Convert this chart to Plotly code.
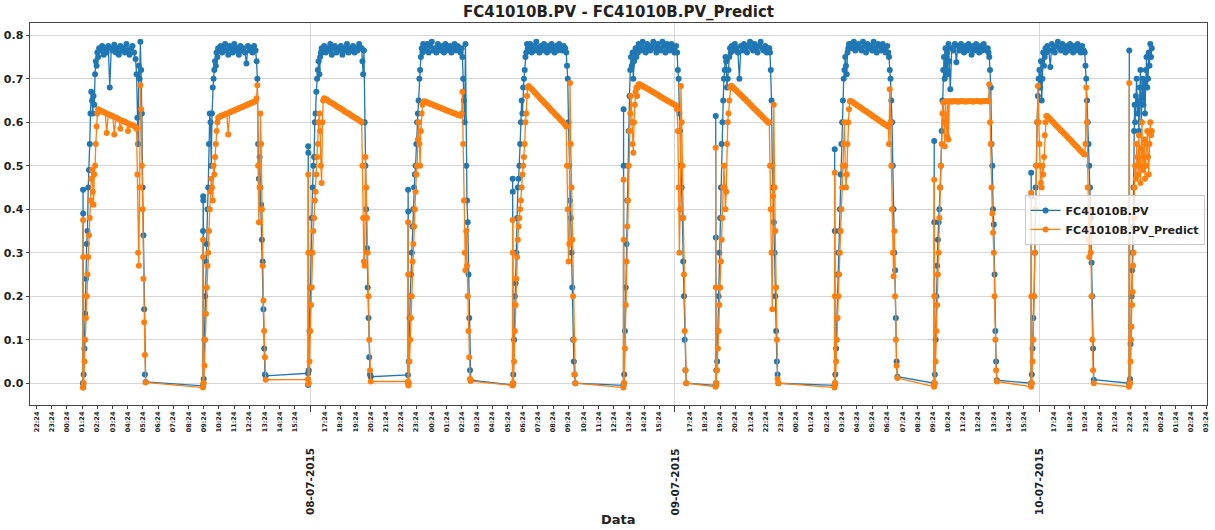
import pandas as pd
import plotly.graph_objects as go

# ---------------------------------------------------------------------------
# Process value (PV) and model prediction for FC41010B, July 2015.
# Each operating run is stored as a start time plus samples taken at
# fixed minute offsets after that start.
# ---------------------------------------------------------------------------
run_starts = [
    "2015-07-08 01:27", "2015-07-08 09:21", "2015-07-08 16:16", "2015-07-08 22:51",
    "2015-07-09 05:44", "2015-07-09 13:02", "2015-07-09 19:06", "2015-07-10 02:56",
    "2015-07-10 09:29", "2015-07-10 15:52",
]

offset_min = [
    0, 0.5, 1, 1.5,
    3, 6, 9, 12, 15, 18, 21, 24, 27, 30,
    33, 36, 39, 42, 45, 48, 51, 54, 57, 60,
    64, 70, 76, 82, 88, 94, 100, 106, 112, 118,
    124, 130, 136, 142, 148, 154, 160, 166, 172, 178,
    184, 190, 196, 202, 208,
    212, 215, 218, 221, 224, 227, 230, 233, 236, 239, 242, 245,
    248,
]

pv_run01 = [0.0, 0.445, 0.39, 0.0,
            0.02, 0.08, 0.16, 0.24, 0.32, 0.35, 0.45, 0.49, 0.55, 0.62,
            0.67, 0.65, 0.62, 0.66, 0.64, 0.71, 0.74, 0.73, 0.76, 0.75,
            0.77, 0.765, 0.775, 0.755, 0.77, 0.76, 0.775, 0.68, 0.77, 0.765,
            0.778, 0.76, 0.77, 0.755, 0.775, 0.765, 0.77, 0.76, 0.78, 0.765,
            0.755, 0.77, 0.775, 0.76, 0.745,
            0.71, 0.61, 0.55, 0.73, 0.70, 0.785, 0.72, 0.62, 0.45, 0.34, 0.17, 0.02,
            0.003]
pred_run01 = [-0.01, 0.375, 0.29, -0.01,
              0.0, 0.05, 0.1, 0.15, 0.2, 0.25, 0.29, 0.34, 0.38, 0.42,
              0.47, 0.49, 0.44, 0.41, 0.48, 0.50, 0.55, 0.59, 0.62, 0.63,
              0.628, 0.626, 0.625, 0.623, 0.622, 0.575, 0.618, 0.617, 0.615, 0.614,
              0.572, 0.610, 0.609, 0.607, 0.585, 0.604, 0.602, 0.601, 0.599, 0.580,
              0.596, 0.594, 0.593, 0.591, 0.589,
              0.585, 0.48, 0.30, 0.27, 0.45, 0.685, 0.63, 0.50, 0.40, 0.24, 0.14, 0.065,
              0.002]

pv_run02 = [-0.006, 0.35, 0.43, 0.42,
            0.01, 0.1, 0.2, 0.28, 0.32, 0.4, 0.45, 0.55, 0.62, 0.6,
            0.5, 0.62, 0.68, 0.7, 0.72, 0.74, 0.73, 0.76, 0.75, 0.77,
            0.765, 0.775, 0.76, 0.77, 0.78, 0.765, 0.755, 0.775, 0.77, 0.76,
            0.78, 0.765, 0.77, 0.755, 0.775, 0.765, 0.77, 0.76, 0.735, 0.775,
            0.765, 0.77, 0.76, 0.775, 0.765,
            0.74, 0.70, 0.55, 0.47, 0.52, 0.45, 0.41, 0.33, 0.28, 0.17, 0.08, 0.02,
            0.017]
pred_run02 = [-0.01, 0.33, 0.29, 0.0,
              0.0, 0.04, 0.1, 0.16, 0.22, 0.27, 0.3, 0.35, 0.4, 0.44,
              0.47, 0.45, 0.42, 0.5, 0.48, 0.52, 0.55, 0.58, 0.6, 0.61,
              0.612, 0.614, 0.615, 0.617, 0.618, 0.620, 0.572, 0.623, 0.624, 0.626,
              0.627, 0.629, 0.630, 0.632, 0.633, 0.635, 0.636, 0.638, 0.639, 0.641,
              0.642, 0.644, 0.645, 0.647, 0.648,
              0.655, 0.685, 0.50, 0.37, 0.45, 0.62, 0.55, 0.40, 0.27, 0.19, 0.12, 0.06,
              0.008]

pv_run03 = [0.023, -0.004, 0.545, 0.53,
            0.03, 0.12, 0.22, 0.3, 0.38, 0.45, 0.5, 0.52, 0.6, 0.62,
            0.67, 0.7, 0.72, 0.74, 0.71, 0.75, 0.76, 0.77, 0.76, 0.77,
            0.775, 0.76, 0.77, 0.765, 0.78, 0.755, 0.77, 0.775, 0.76, 0.77,
            0.765, 0.775, 0.755, 0.77, 0.765, 0.78, 0.76, 0.77, 0.765, 0.775,
            0.76, 0.77, 0.765, 0.78, 0.77,
            0.77, 0.74, 0.71, 0.765, 0.60, 0.50, 0.40, 0.31, 0.22, 0.15, 0.06, 0.02,
            0.015]
pred_run03 = [0.009, -0.002, 0.48, 0.30,
              0.0, 0.05, 0.12, 0.18, 0.22, 0.3, 0.35, 0.38, 0.42, 0.44,
              0.48, 0.52, 0.55, 0.6, 0.62, 0.58, 0.5, 0.46, 0.6, 0.65,
              0.655, 0.653, 0.651, 0.648, 0.646, 0.644, 0.642, 0.640, 0.637, 0.635,
              0.633, 0.631, 0.629, 0.626, 0.624, 0.622, 0.620, 0.618, 0.615, 0.613,
              0.611, 0.609, 0.607, 0.604, 0.602,
              0.60, 0.50, 0.38, 0.28, 0.27, 0.52, 0.45, 0.38, 0.30, 0.20, 0.10, 0.03,
              0.004]

pv_run04 = [0.019, 0.445, 0.395, 0.0,
            0.05, 0.15, 0.2, 0.25, 0.3, 0.36, 0.4, 0.45, 0.48, 0.5,
            0.55, 0.6, 0.62, 0.65, 0.7, 0.72, 0.75, 0.77, 0.76, 0.78,
            0.77, 0.765, 0.78, 0.76, 0.775, 0.785, 0.765, 0.77, 0.76, 0.78,
            0.77, 0.765, 0.775, 0.76, 0.78, 0.77, 0.765, 0.775, 0.76, 0.77,
            0.78, 0.765, 0.775, 0.77, 0.76,
            0.77, 0.75, 0.70, 0.65, 0.60, 0.78, 0.50, 0.42, 0.37, 0.25, 0.15, 0.03,
            0.007]
pred_run04 = [0.004, 0.37, 0.25, -0.005,
              0.0, 0.05, 0.1, 0.15, 0.2, 0.28, 0.32, 0.36, 0.4, 0.44,
              0.48, 0.5, 0.56, 0.6, 0.55, 0.5, 0.58, 0.62, 0.64, 0.645,
              0.648, 0.647, 0.645, 0.644, 0.642, 0.641, 0.640, 0.638, 0.637, 0.635,
              0.634, 0.633, 0.631, 0.630, 0.628, 0.627, 0.626, 0.624, 0.623, 0.621,
              0.620, 0.619, 0.617, 0.616, 0.615,
              0.62, 0.67, 0.55, 0.42, 0.30, 0.26, 0.35, 0.27, 0.20, 0.12, 0.06, 0.01,
              0.005]

pv_run05 = [-0.004, 0.47, 0.44, 0.0,
            0.02, 0.1, 0.2, 0.23, 0.3, 0.38, 0.45, 0.47, 0.5, 0.55,
            0.6, 0.65, 0.62, 0.68, 0.7, 0.72, 0.75, 0.76, 0.78, 0.77,
            0.77, 0.78, 0.76, 0.775, 0.765, 0.785, 0.77, 0.76, 0.775, 0.765,
            0.78, 0.77, 0.76, 0.775, 0.765, 0.78, 0.77, 0.76, 0.775, 0.765,
            0.78, 0.77, 0.765, 0.775, 0.77,
            0.76, 0.73, 0.70, 0.60, 0.50, 0.42, 0.38, 0.30, 0.22, 0.10, 0.05, 0.02,
            0.0]
pred_run05 = [-0.005, 0.375, 0.30, 0.0,
              0.0, 0.05, 0.12, 0.18, 0.24, 0.29, 0.33, 0.36, 0.38, 0.40,
              0.42, 0.45, 0.48, 0.50, 0.52, 0.55, 0.60, 0.62, 0.66, 0.68,
              0.683, 0.679, 0.676, 0.672, 0.668, 0.664, 0.661, 0.657, 0.653, 0.650,
              0.646, 0.642, 0.639, 0.635, 0.631, 0.627, 0.624, 0.620, 0.616, 0.613,
              0.609, 0.605, 0.602, 0.598, 0.594,
              0.59, 0.50, 0.40, 0.28, 0.32, 0.69, 0.55, 0.45, 0.33, 0.20, 0.10, 0.02,
              0.0]

pv_run06 = [-0.005, 0.63, 0.50, 0.0,
            0.02, 0.12, 0.22, 0.32, 0.42, 0.5, 0.58, 0.66, 0.72, 0.75,
            0.73, 0.76, 0.70, 0.74, 0.76, 0.77, 0.75, 0.77, 0.76, 0.78,
            0.775, 0.765, 0.785, 0.77, 0.76, 0.78, 0.77, 0.765, 0.775, 0.785,
            0.77, 0.76, 0.78, 0.77, 0.765, 0.785, 0.775, 0.76, 0.78, 0.77,
            0.765, 0.78, 0.77, 0.76, 0.775,
            0.76, 0.72, 0.70, 0.62, 0.58, 0.50, 0.45, 0.38, 0.28, 0.20, 0.10, 0.03,
            0.0]
pred_run06 = [-0.01, 0.468, 0.33, 0.0,
              0.0, 0.08, 0.18, 0.28, 0.36, 0.42, 0.5, 0.58, 0.62, 0.66,
              0.60, 0.55, 0.53, 0.6, 0.64, 0.67, 0.68, 0.66, 0.68, 0.687,
              0.687, 0.685, 0.683, 0.681, 0.679, 0.677, 0.675, 0.673, 0.671, 0.669,
              0.667, 0.665, 0.663, 0.660, 0.658, 0.656, 0.654, 0.652, 0.650, 0.648,
              0.646, 0.644, 0.642, 0.640, 0.638,
              0.63, 0.58, 0.45, 0.30, 0.40, 0.683, 0.60, 0.50, 0.38, 0.25, 0.12, 0.03,
              0.0]

pv_run07 = [-0.005, 0.614, 0.335, 0.0,
            0.03, 0.05, 0.12, 0.2, 0.3, 0.38, 0.45, 0.55, 0.6, 0.65,
            0.7, 0.72, 0.75, 0.74, 0.68, 0.7, 0.72, 0.75, 0.77, 0.76,
            0.775, 0.765, 0.78, 0.77, 0.76, 0.70, 0.775, 0.765, 0.78, 0.77,
            0.76, 0.775, 0.785, 0.77, 0.765, 0.78, 0.77, 0.76, 0.775, 0.785,
            0.77, 0.765, 0.775, 0.76, 0.77,
            0.77, 0.76, 0.72, 0.65, 0.50, 0.45, 0.37, 0.30, 0.20, 0.12, 0.05, 0.02,
            0.0]
pred_run07 = [-0.008, 0.541, 0.22, -0.005,
              0.0, 0.03, 0.08, 0.12, 0.18, 0.22, 0.28, 0.33, 0.38, 0.45,
              0.5, 0.45, 0.4, 0.44, 0.55, 0.6, 0.62, 0.65, 0.68, 0.683,
              0.683, 0.680, 0.676, 0.673, 0.669, 0.666, 0.662, 0.659, 0.655, 0.652,
              0.648, 0.645, 0.641, 0.638, 0.634, 0.631, 0.627, 0.624, 0.620, 0.617,
              0.613, 0.610, 0.606, 0.603, 0.599,
              0.60, 0.50, 0.40, 0.30, 0.17, 0.43, 0.64, 0.45, 0.35, 0.22, 0.10, 0.01,
              0.0]

pv_run08 = [-0.005, 0.538, 0.35, 0.0,
            0.02, 0.08, 0.15, 0.25, 0.3, 0.35, 0.4, 0.48, 0.55, 0.6,
            0.65, 0.7, 0.72, 0.75, 0.73, 0.71, 0.76, 0.77, 0.78, 0.77,
            0.78, 0.77, 0.785, 0.765, 0.775, 0.78, 0.77, 0.765, 0.785, 0.775,
            0.76, 0.78, 0.77, 0.775, 0.765, 0.785, 0.77, 0.76, 0.78, 0.775,
            0.765, 0.78, 0.77, 0.76, 0.775,
            0.76, 0.75, 0.72, 0.70, 0.65, 0.60, 0.50, 0.40, 0.30, 0.26, 0.15, 0.05,
            0.015]
pred_run08 = [-0.01, 0.484, 0.20, 0.0,
              0.0, 0.05, 0.1, 0.15, 0.2, 0.25, 0.3, 0.35, 0.4, 0.45,
              0.5, 0.55, 0.6, 0.5, 0.45, 0.48, 0.55, 0.6, 0.63, 0.648,
              0.649, 0.647, 0.644, 0.642, 0.639, 0.637, 0.635, 0.632, 0.630, 0.627,
              0.625, 0.623, 0.620, 0.618, 0.615, 0.613, 0.611, 0.608, 0.606, 0.603,
              0.601, 0.599, 0.596, 0.594, 0.591,
              0.59, 0.55, 0.676, 0.60, 0.50, 0.40, 0.30, 0.246, 0.35, 0.20, 0.10, 0.04,
              0.012]

pv_run09 = [0.0, 0.557, 0.37, 0.0,
            0.02, 0.1, 0.2, 0.27, 0.33, 0.37, 0.4, 0.45, 0.5, 0.58,
            0.65, 0.72, 0.75, 0.7, 0.77, 0.72, 0.76, 0.71, 0.78, 0.74,
            0.676, 0.77, 0.765, 0.78, 0.738, 0.775, 0.765, 0.78, 0.77, 0.76,
            0.775, 0.765, 0.78, 0.77, 0.755, 0.775, 0.765, 0.78, 0.77, 0.76,
            0.775, 0.765, 0.78, 0.77, 0.765,
            0.77, 0.76, 0.75, 0.72, 0.68, 0.55, 0.50, 0.40, 0.365, 0.25, 0.12, 0.05,
            0.007]
pred_run09 = [-0.008, 0.468, 0.20, 0.0,
              0.0, 0.05, 0.12, 0.18, 0.25, 0.3, 0.38, 0.45, 0.5, 0.55,
              0.62, 0.645, 0.6, 0.545, 0.648, 0.6, 0.567, 0.648, 0.56, 0.648,
              0.648, 0.647, 0.648, 0.649, 0.648, 0.647, 0.648, 0.648, 0.649, 0.648,
              0.647, 0.648, 0.648, 0.649, 0.648, 0.647, 0.648, 0.648, 0.649, 0.648,
              0.647, 0.648, 0.648, 0.649, 0.648,
              0.648, 0.648, 0.687, 0.60, 0.55, 0.45, 0.39, 0.346, 0.30, 0.20, 0.10, 0.03,
              0.004]

pv_run10 = [0.0, 0.484, 0.43, 0.0,
            0.02, 0.08, 0.15, 0.2, 0.3, 0.45, 0.5, 0.6, 0.66, 0.7,
            0.72, 0.68, 0.74, 0.65, 0.7, 0.76, 0.73, 0.75, 0.77, 0.76,
            0.775, 0.765, 0.727, 0.78, 0.77, 0.76, 0.775, 0.785, 0.77, 0.765,
            0.78, 0.77, 0.76, 0.775, 0.765, 0.78, 0.77, 0.76, 0.775, 0.765,
            0.78, 0.77, 0.76, 0.775, 0.765,
            0.76, 0.73, 0.70, 0.65, 0.60, 0.55, 0.50, 0.45, 0.38, 0.277, 0.20, 0.08,
            0.008]
pred_run10 = [-0.008, 0.438, 0.20, 0.0,
              0.0, 0.05, 0.1, 0.2, 0.3, 0.4, 0.5, 0.6, 0.683, 0.6,
              0.55, 0.5, 0.46, 0.45, 0.5, 0.48, 0.52, 0.57, 0.6, 0.614,
              0.614, 0.610, 0.607, 0.603, 0.600, 0.596, 0.592, 0.589, 0.585, 0.581,
              0.578, 0.574, 0.571, 0.567, 0.563, 0.560, 0.556, 0.552, 0.549, 0.545,
              0.542, 0.538, 0.534, 0.531, 0.527,
              0.526, 0.55, 0.68, 0.60, 0.45, 0.33, 0.29, 0.40, 0.30, 0.20, 0.10, 0.03,
              0.0]

# Last (incomplete) run, with its own sample offsets
last_run_start = "2015-07-10 22:19"
last_offset_min = [0, 1, 2, 4, 6, 8, 10, 12, 14, 16, 18, 20, 22, 24,
                   27, 30, 33, 36, 39, 42, 45, 48, 51, 54, 57, 60,
                   63, 66, 69, 72, 75, 78, 81, 84, 87, 90]
pv_run11 = [0.0, 0.765, 0.0, 0.01, 0.09, 0.13, 0.2, 0.26, 0.3, 0.36, 0.45, 0.58, 0.64, 0.6,
            0.66, 0.7, 0.62, 0.65, 0.58, 0.68, 0.72, 0.6, 0.66, 0.7, 0.64, 0.69,
            0.62, 0.72, 0.75, 0.68, 0.7, 0.76, 0.73, 0.78, 0.75, 0.77]
pred_run11 = [-0.008, 0.69, 0.0, 0.0, 0.05, 0.1, 0.13, 0.18, 0.21, 0.27, 0.3, 0.38, 0.45, 0.5,
              0.47, 0.55, 0.52, 0.48, 0.57, 0.5, 0.46, 0.54, 0.6, 0.49, 0.52, 0.56,
              0.47, 0.5, 0.55, 0.58, 0.52, 0.48, 0.55, 0.6, 0.57, 0.58]

pv_runs = [pv_run01, pv_run02, pv_run03, pv_run04, pv_run05,
           pv_run06, pv_run07, pv_run08, pv_run09, pv_run10]
pred_runs = [pred_run01, pred_run02, pred_run03, pred_run04, pred_run05,
             pred_run06, pred_run07, pred_run08, pred_run09, pred_run10]

# Axis labelling
date_ticks = ["2015-07-08 16:24", "2015-07-09 16:24", "2015-07-10 16:24"]
date_labels = ["08-07-2015", "09-07-2015", "10-07-2015"]
y_ticks = [0.0, 0.1, 0.2, 0.3, 0.4, 0.5, 0.6, 0.7, 0.8]
y_labels = ["0.0", "0.1", "0.2", "0.3", "0.4", "0.5", "0.6", "0.7", "0.8"]
x_window = ["2015-07-07 21:58", "2015-07-11 03:27"]

# ---------------------------------------------------------------------------
# Assemble the two continuous series
# ---------------------------------------------------------------------------
times, pv, pred = [], [], []
for start, pv_run, pred_run in zip(run_starts, pv_runs, pred_runs):
    t0 = pd.Timestamp(start)
    times += [t0 + pd.Timedelta(minutes=m) for m in offset_min]
    pv += pv_run
    pred += pred_run
t0 = pd.Timestamp(last_run_start)
times += [t0 + pd.Timedelta(minutes=m) for m in last_offset_min]
pv += pv_run11
pred += pred_run11

# Hourly tick marks labelled HH:MM, the day marks carry the date instead
hours = pd.date_range("2015-07-07 22:24", "2015-07-11 03:24", freq="h")
day_marks = set(pd.to_datetime(date_ticks))
hour_ticks = [h for h in hours if h not in day_marks]
hour_labels = [h.strftime("%H:%M") for h in hour_ticks]

FONT = "DejaVu Sans"
TEXT = "#222222"
GRID = "#d6d6d6"
SPINE = "#444444"

fig = go.Figure()
fig.add_trace(go.Scatter(
    x=times, y=pv, mode="lines+markers", name="FC41010B.PV",
    line=dict(color="#1f77b4", width=1.3),
    marker=dict(color="#1f77b4", size=6),
))
fig.add_trace(go.Scatter(
    x=times, y=pred, mode="lines+markers", name="FC41010B.PV_Predict",
    line=dict(color="#ff7f0e", width=1.3),
    marker=dict(color="#ff7f0e", size=6),
))

annotations = [
    dict(x=d, y=-0.2016, xref="x", yref="paper", text=lab, textangle=-90,
         showarrow=False, xanchor="center", yanchor="middle",
         font=dict(family=FONT, size=10.5, color=TEXT, weight="bold"))
    for d, lab in zip(date_ticks, date_labels)
]
annotations.append(dict(x=0.5, y=-0.301, xref="paper", yref="paper", text="Data",
                        showarrow=False, xanchor="center", yanchor="middle",
                        font=dict(family=FONT, size=13, color=TEXT, weight="bold")))

fig.update_layout(
    width=1215, height=530,
    margin=dict(l=30, r=8, t=23, b=125),
    paper_bgcolor="white", plot_bgcolor="white",
    font=dict(family=FONT, color=TEXT),
    title=dict(text="FC41010B.PV - FC41010B.PV_Predict", x=0.5, xref="paper",
               xanchor="center", y=0.977, yref="container", yanchor="middle",
               font=dict(family=FONT, size=15, color=TEXT, weight="bold")),
    legend=dict(x=0.845, y=0.55, xanchor="left", yanchor="top",
                bgcolor="rgba(255,255,255,0.8)", bordercolor="#cccccc", borderwidth=1,
                font=dict(family=FONT, size=11, color=TEXT, weight="bold"),
                itemwidth=30, tracegroupgap=0),
    annotations=annotations,
    xaxis=dict(
        type="date", range=x_window,
        tickmode="array", tickvals=hour_ticks, ticktext=hour_labels,
        tickangle=-90, tickfont=dict(family=FONT, size=6.5, color=TEXT, weight="bold"),
        ticks="outside", ticklen=3, tickcolor=SPINE,
        showgrid=False, zeroline=False,
        showline=True, mirror=True, linecolor=SPINE, linewidth=1,
        automargin=False,
        minor=dict(tickvals=date_ticks, showgrid=True, gridcolor=GRID, gridwidth=1,
                   ticks="outside", ticklen=6, tickcolor=SPINE),
    ),
    yaxis=dict(
        range=[-0.05, 0.828],
        tickmode="array", tickvals=y_ticks, ticktext=y_labels,
        tickfont=dict(family=FONT, size=11, color=TEXT, weight="bold"),
        ticks="outside", ticklen=3.5, tickcolor=SPINE,
        showgrid=True, gridcolor=GRID, gridwidth=1, zeroline=False,
        showline=True, mirror=True, linecolor=SPINE, linewidth=1,
        automargin=False,
    ),
)

fig.write_html("out.html")
